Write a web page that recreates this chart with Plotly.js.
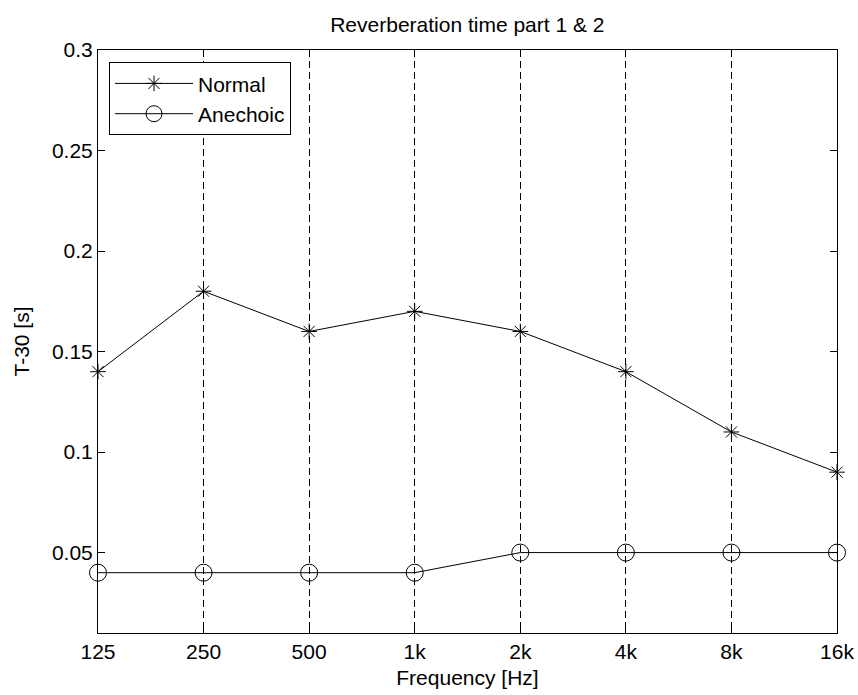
<!DOCTYPE html>
<html>
<head>
<meta charset="utf-8">
<script src="https://cdn.plot.ly/plotly-3.0.1.min.js"></script>
<style>html,body{margin:0;padding:0;background:#fff;}#chart{width:858px;height:695px;}</style>
</head>
<body>
<div id="chart"></div>
<script>
const frequencies = ["125", "250", "500", "1k", "2k", "4k", "8k", "16k"];
const normalT30 = [0.14, 0.18, 0.16, 0.17, 0.16, 0.14, 0.11, 0.09];
const anechoicT30 = [0.04, 0.04, 0.04, 0.04, 0.05, 0.05, 0.05, 0.05];
const yTicks = [0.05, 0.1, 0.15, 0.2, 0.25, 0.3];
const yTickText = ["0.05", "0.1", "0.15", "0.2", "0.25", "0.3"];

const FONT = "Liberation Sans, Arial, Helvetica, sans-serif";
const FS = 21;

const traces = [
  {
    x: frequencies, y: normalT30, name: "Normal", type: "scatter", mode: "lines+markers",
    line: {color: "#000", width: 1},
    marker: {symbol: "asterisk-open", size: 13, color: "#000", line: {color: "#000", width: 1}},
    cliponaxis: false
  },
  {
    x: frequencies, y: anechoicT30, name: "Anechoic", type: "scatter", mode: "lines+markers",
    line: {color: "#000", width: 1},
    marker: {symbol: "circle-open", size: 17, color: "#000", line: {color: "#000", width: 1}},
    cliponaxis: false
  }
];

const layout = {
  width: 858, height: 695,
  paper_bgcolor: "#fff", plot_bgcolor: "#fff",
  margin: {l: 98, r: 21, t: 50, b: 62, pad: 0},
  font: {family: FONT, size: FS, color: "#000"},
  title: {text: "Reverberation time part 1 & 2", font: {family: FONT, size: FS, color: "#000"},
          x: 0.5447, xanchor: "center", y: 0.965, yanchor: "middle"},
  showlegend: true,
  legend: {x: 0.0149, y: 0.979, xanchor: "left", yanchor: "top",
           bgcolor: "#fff", bordercolor: "#000", borderwidth: 1,
           font: {family: FONT, size: FS, color: "#000"}, itemwidth: 78},
  xaxis: {
    type: "category", categoryorder: "array", categoryarray: frequencies,
    range: [0, frequencies.length - 1],
    showline: true, linecolor: "#000", linewidth: 1, mirror: "ticks",
    ticks: "inside", ticklen: 7, tickcolor: "#000", tickwidth: 1,
    showgrid: true, gridcolor: "#000", gridwidth: 1, griddash: "7px,4px",
    zeroline: false,
    tickfont: {family: FONT, size: FS, color: "#000"},
    title: {text: "Frequency [Hz]", font: {family: FONT, size: FS, color: "#000"}, standoff: 8}
  },
  yaxis: {
    range: [0.01, 0.3], tickvals: yTicks, ticktext: yTickText,
    showline: true, linecolor: "#000", linewidth: 1, mirror: "ticks",
    ticks: "inside", ticklen: 7, tickcolor: "#000", tickwidth: 1,
    showgrid: false, zeroline: false,
    tickfont: {family: FONT, size: FS, color: "#000"},
    title: {text: "T-30 [s]", font: {family: FONT, size: FS, color: "#000"}, standoff: 16}
  }
};

Plotly.newPlot("chart", traces, layout, {displayModeBar: false, staticPlot: true});
</script>
</body>
</html>
